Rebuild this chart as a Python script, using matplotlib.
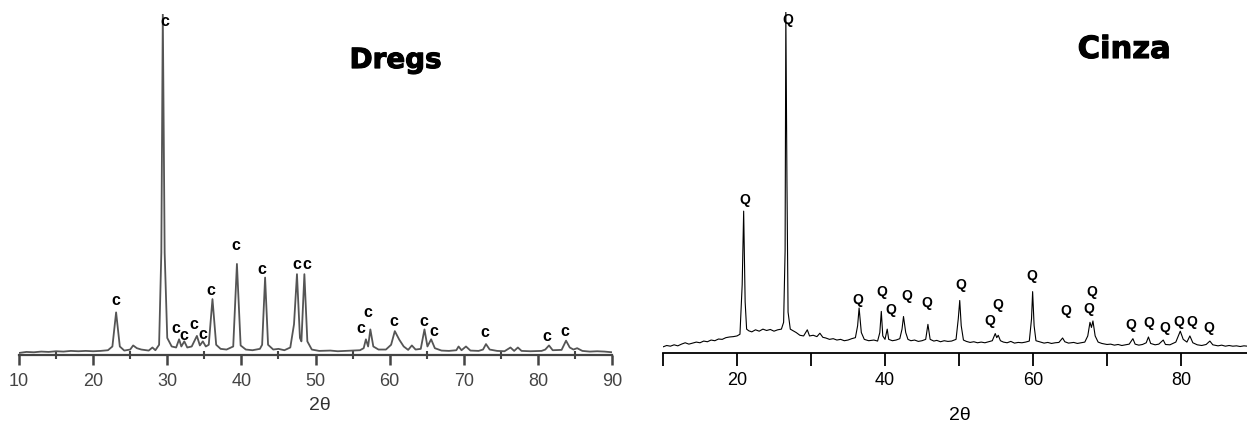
import numpy as np
import matplotlib.pyplot as plt
import matplotlib.patheffects as pe
from matplotlib.ticker import MultipleLocator, NullFormatter

# Dregs (left): (2theta, intensidade relativa)
dregs_x = [10, 11, 12, 13, 14, 15, 16, 17, 18, 19, 20, 21, 22, 22.6, 23.1, 23.6, 24.2, 25.0, 25.4, 25.9,
           26.5, 27.5, 28.0, 28.4, 28.9, 29.2, 29.4, 29.65, 30.0, 30.6, 31.2, 31.6, 31.9, 32.3, 32.7, 33.3,
           34.0, 34.4, 34.8, 35.2, 35.6, 36.1, 36.6, 37.2, 38.0, 38.9, 39.4, 39.9, 40.6, 41.5, 42.5, 42.8,
           43.2, 43.6, 44.3, 45.0, 45.8, 46.6, 47.1, 47.5, 47.9, 48.1, 48.5, 48.9, 49.5, 50.5, 52, 53, 54,
           55, 56, 56.5, 56.8, 57.1, 57.4, 57.8, 58.5, 59.5, 60.2, 60.7, 61.3, 61.9, 62.5, 63.0, 63.5, 64.2,
           64.7, 65.1, 65.6, 66.1, 67, 68, 69.0, 69.3, 69.7, 70.3, 70.9, 72.0, 72.6, 73.0, 73.5, 74.5, 75.5,
           76.3, 76.8, 77.3, 77.8, 79, 80.5, 81.0, 81.5, 82.0, 83.2, 83.8, 84.3, 84.8, 85.3, 86, 87, 88, 89, 90]
dregs_y = [0.006, 0.009, 0.008, 0.010, 0.009, 0.011, 0.010, 0.012, 0.011, 0.012, 0.011, 0.012, 0.014, 0.025,
           0.125, 0.025, 0.013, 0.016, 0.028, 0.020, 0.016, 0.013, 0.022, 0.014, 0.030, 0.300, 1.0, 0.300,
           0.050, 0.025, 0.022, 0.046, 0.025, 0.040, 0.022, 0.025, 0.056, 0.028, 0.040, 0.025, 0.030, 0.164,
           0.030, 0.018, 0.016, 0.025, 0.267, 0.028, 0.016, 0.014, 0.018, 0.030, 0.227, 0.030, 0.016, 0.018,
           0.014, 0.022, 0.090, 0.237, 0.050, 0.040, 0.237, 0.040, 0.016, 0.012, 0.013, 0.011, 0.012, 0.013,
           0.014, 0.020, 0.046, 0.025, 0.075, 0.025, 0.016, 0.016, 0.030, 0.070, 0.045, 0.025, 0.015, 0.028,
           0.016, 0.018, 0.075, 0.025, 0.046, 0.020, 0.013, 0.012, 0.014, 0.025, 0.014, 0.025, 0.013, 0.012,
           0.016, 0.032, 0.016, 0.012, 0.011, 0.022, 0.012, 0.022, 0.012, 0.011, 0.012, 0.016, 0.028, 0.014,
           0.015, 0.042, 0.022, 0.016, 0.020, 0.012, 0.010, 0.011, 0.010, 0.008]
dregs_lbl_x = [23.0, 29.7, 31.2, 32.3, 33.6, 34.8, 35.9, 39.3, 42.8, 47.5, 48.8, 56.1, 57.0, 60.6, 64.6,
               66.0, 72.9, 81.2, 83.6]
dregs_lbl_y = [0.159, 0.977, 0.078, 0.056, 0.088, 0.059, 0.19, 0.32, 0.252, 0.265, 0.265, 0.078, 0.125,
               0.098, 0.098, 0.069, 0.066, 0.053, 0.069]

# Cinza (right)
cinza_x = [10, 10.5, 11, 11.5, 12, 12.5, 13, 13.5, 14, 14.5, 15, 15.5, 16, 16.5, 17, 17.5, 18, 18.5, 19,
           19.5, 20, 20.4, 20.7, 20.9, 21.1, 21.3, 21.6, 22, 22.5, 23, 23.5, 24, 24.5, 25, 25.5, 26, 26.3,
           26.5, 26.6, 26.75, 26.9, 27.2, 27.6, 28, 28.5, 29, 29.5, 29.8, 30.3, 30.8, 31.2, 31.6, 32, 32.5,
           33, 33.5, 34, 34.5, 35, 35.5, 36, 36.3, 36.5, 36.8, 37.2, 37.8, 38.5, 39, 39.3, 39.5, 39.7, 40.0,
           40.3, 40.5, 41, 41.5, 42, 42.3, 42.5, 42.8, 43.1, 43.5, 44, 44.5, 45, 45.5, 45.8, 46.1, 46.6, 47,
           47.5, 48, 48.5, 49, 49.6, 49.9, 50.1, 50.3, 50.6, 51, 51.5, 52, 52.5, 53, 53.5, 54, 54.5, 54.9,
           55.1, 55.3, 55.6, 56, 56.5, 57, 57.5, 58, 58.5, 59, 59.5, 59.8, 59.95, 60.15, 60.4, 61, 61.5, 62,
           62.5, 63, 63.5, 64, 64.3, 64.8, 65.5, 66, 66.5, 67, 67.4, 67.7, 67.9, 68.1, 68.4, 68.8, 69.3, 70,
           70.5, 71, 71.5, 72, 72.5, 73, 73.5, 73.8, 74.3, 74.8, 75.3, 75.6, 75.9, 76.5, 77, 77.6, 77.9, 78.5,
           79.3, 79.9, 80.3, 80.8, 81.2, 81.6, 82.2, 82.8, 83.4, 83.9, 84.3, 85, 85.5, 86, 86.5, 87, 87.5, 88,
           88.5, 89]
cinza_y = [0.018, 0.022, 0.020, 0.024, 0.021, 0.026, 0.030, 0.026, 0.029, 0.032, 0.030, 0.035, 0.033, 0.038,
           0.036, 0.041, 0.040, 0.045, 0.047, 0.048, 0.050, 0.055, 0.200, 0.416, 0.150, 0.070, 0.065, 0.062,
           0.068, 0.064, 0.070, 0.066, 0.069, 0.064, 0.068, 0.070, 0.090, 0.300, 1.0, 0.500, 0.120, 0.070,
           0.065, 0.060, 0.052, 0.050, 0.068, 0.050, 0.052, 0.048, 0.058, 0.046, 0.044, 0.040, 0.042, 0.038,
           0.040, 0.036, 0.038, 0.042, 0.045, 0.080, 0.132, 0.060, 0.040, 0.036, 0.038, 0.035, 0.060, 0.122,
           0.050, 0.040, 0.070, 0.040, 0.036, 0.038, 0.042, 0.070, 0.107, 0.060, 0.040, 0.036, 0.038, 0.034,
           0.036, 0.040, 0.084, 0.040, 0.035, 0.037, 0.033, 0.036, 0.034, 0.035, 0.040, 0.100, 0.154, 0.080,
           0.038, 0.034, 0.031, 0.033, 0.030, 0.032, 0.030, 0.033, 0.036, 0.057, 0.045, 0.052, 0.036, 0.032,
           0.030, 0.034, 0.029, 0.031, 0.030, 0.032, 0.035, 0.100, 0.180, 0.080, 0.036, 0.032, 0.029, 0.031,
           0.028, 0.030, 0.031, 0.044, 0.033, 0.029, 0.031, 0.028, 0.030, 0.032, 0.050, 0.090, 0.075, 0.094,
           0.050, 0.032, 0.028, 0.025, 0.026, 0.023, 0.025, 0.022, 0.024, 0.026, 0.042, 0.026, 0.023, 0.025,
           0.030, 0.047, 0.028, 0.024, 0.026, 0.038, 0.025, 0.024, 0.032, 0.064, 0.040, 0.032, 0.050, 0.030,
           0.024, 0.022, 0.025, 0.035, 0.024, 0.021, 0.023, 0.020, 0.022, 0.020, 0.021, 0.019, 0.021, 0.020]
cinza_lbl_x = [21.0, 26.8, 36.3, 39.55, 40.8, 42.9, 45.6, 50.2, 54.2, 55.2, 59.8, 64.4, 67.5, 68.0, 73.2,
               75.7, 77.8, 79.7, 81.4, 83.8]
cinza_lbl_y = [0.449, 0.977, 0.155, 0.18, 0.127, 0.167, 0.147, 0.2, 0.094, 0.14, 0.227, 0.124, 0.129,
               0.178, 0.082, 0.087, 0.072, 0.092, 0.092, 0.072]

W, H = 1247, 425
fig = plt.figure(figsize=(W / 100, H / 100), dpi=100)
heavy = [pe.withStroke(linewidth=0.8, foreground='black')]

# painel esquerdo (Dregs)
ax1 = fig.add_axes([19 / W, (H - 355) / H, 593 / W, 341 / H])
ax1.plot(dregs_x, dregs_y, color='#555555', lw=1.3)
ax1.set_xlim(10, 90)
ax1.set_ylim(0, 1)
for s in ['left', 'right', 'top']:
    ax1.spines[s].set_visible(False)
ax1.spines['bottom'].set_color('#444444')
ax1.spines['bottom'].set_linewidth(1.6)
ax1.set_yticks([])
ax1.xaxis.set_major_locator(MultipleLocator(10))
ax1.xaxis.set_minor_locator(MultipleLocator(5))
ax1.tick_params(axis='x', which='major', direction='out', length=7, width=1.8, color='#444444',
                labelsize=13, labelcolor='#444444', pad=6)
ax1.tick_params(axis='x', which='minor', direction='inout', length=6, width=1.5, color='#444444')
for lbl in ax1.get_xticklabels():
    lbl.set_family('Liberation Sans')
for x, y in zip(dregs_lbl_x, dregs_lbl_y):
    ax1.text(x, y, 'c', ha='center', va='center', fontsize=11.5, fontweight='bold',
             family='Liberation Sans', clip_on=False)
ax1.text(60.8, 0.865, 'Dregs', ha='center', va='center', fontsize=20, fontweight='bold',
         path_effects=heavy)
fig.text(320 / W, 1 - 406 / H, '2θ', ha='center', va='center', fontsize=14, color='#333333',
         family='Liberation Sans')

# painel direito (Cinza)
ax2 = fig.add_axes([663 / W, (H - 353) / H, (W - 663) / W, 341 / H])
ax2.plot(cinza_x, cinza_y, color='black', lw=0.8)
ax2.set_xlim(10, 10 + (W - 663) / 7.4)
ax2.set_ylim(0, 1)
for s in ['left', 'right', 'top']:
    ax2.spines[s].set_visible(False)
ax2.spines['bottom'].set_linewidth(1.3)
ax2.set_yticks([])
ax2.xaxis.set_major_locator(MultipleLocator(20))
ax2.xaxis.set_minor_locator(MultipleLocator(10))
ax2.xaxis.set_minor_formatter(NullFormatter())
ax2.tick_params(axis='x', which='both', direction='out', length=9, width=1.3, labelsize=13, pad=5)
for lbl in ax2.get_xticklabels():
    lbl.set_family('Liberation Sans')
for x, y in zip(cinza_lbl_x, cinza_lbl_y):
    ax2.text(x, y, 'Q', ha='center', va='center', fontsize=10, fontweight='bold',
             family='Liberation Sans', clip_on=False)
ax2.text(72.3, 0.89, 'Cinza', ha='center', va='center', fontsize=22, fontweight='bold',
         path_effects=heavy)
fig.text(960 / W, 1 - 416 / H, '2θ', ha='center', va='center', fontsize=14, family='Liberation Sans')

fig.savefig('out.png', dpi=100)
